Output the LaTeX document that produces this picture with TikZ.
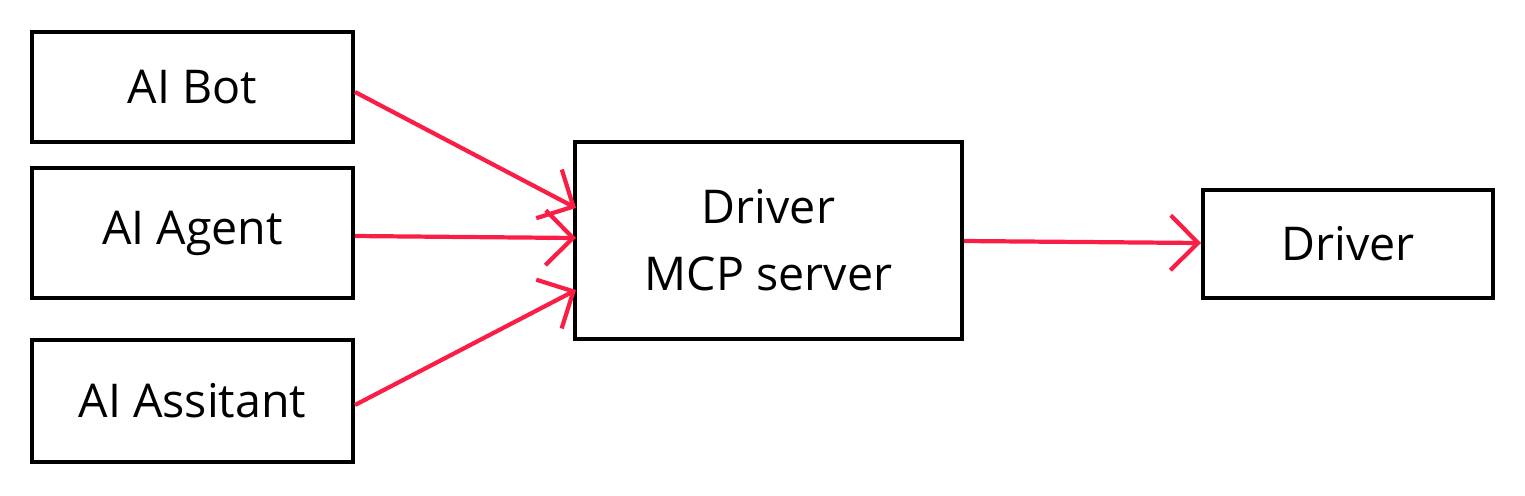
\documentclass[tikz,border=0pt]{standalone}
\usepackage{fontspec}
\setmainfont{Open Sans}
\usetikzlibrary{arrows.meta}
\definecolor{ared}{RGB}{250,30,70}
\begin{document}
\begin{tikzpicture}[x=0.02cm,y=-0.02cm,
 box/.style={draw,line width=2.4pt,inner sep=0,font=\fontsize{26.5}{38}\selectfont,align=center},
 conn/.style={draw=ared,line width=2.4pt,-{Straight Barb[length=0.55cm,width=1.1cm,line width=2.4pt]}}]
\useasboundingbox (0,0) rectangle (1525,495);
\node[box,minimum width=321*0.02cm,minimum height=110*0.02cm] (bot) at (192.5,87) {AI Bot};
\node[box,minimum width=321*0.02cm,minimum height=130*0.02cm] (agent) at (192.5,233) {AI Agent};
\node[box,minimum width=321*0.02cm,minimum height=122*0.02cm] (asst) at (192.5,401) {AI Assitant};
\node[box,minimum width=387*0.02cm,minimum height=197*0.02cm] (mcp) at (768.5,240.5) {Driver\\MCP server};
\node[box,minimum width=290*0.02cm,minimum height=108*0.02cm] (drv) at (1348,244) {Driver};
\coordinate (a1) at (355,92); \coordinate (b1) at (576,208);
\coordinate (a2) at (355,236); \coordinate (b2) at (576,238);
\coordinate (a3) at (355,405); \coordinate (b3) at (576,290);
\coordinate (a4) at (964,241); \coordinate (b4) at (1201,243);
\draw[conn] (a1) -- (b1);
\draw[conn] (a2) -- (b2);
\draw[conn] (a3) -- (b3);
\draw[conn] (a4) -- (b4);
\end{tikzpicture}
\end{document}
